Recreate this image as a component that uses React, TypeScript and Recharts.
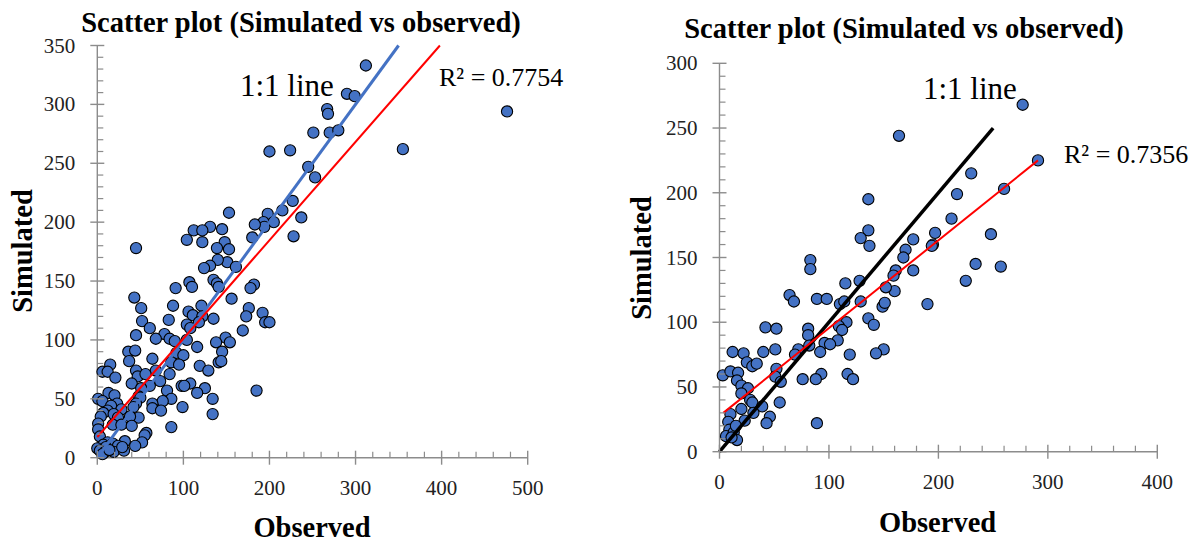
import React from 'react';
import { ScatterChart, Scatter, XAxis, YAxis } from 'recharts';

// Left panel: observed vs simulated
const leftObserved = [
  312, 290, 299, 267, 268, 476, 251, 270, 280, 200, 224, 355, 245, 253, 227, 215, 153, 198, 205, 193,
  194, 183, 237, 228, 180, 131, 112, 122, 145, 104, 122, 148, 153, 139, 45, 151, 140, 131, 124, 161,
  135, 139, 141, 107, 110, 91, 182, 178, 43, 156, 88, 51, 176, 121, 106, 111, 122, 192, 173, 83,
  135, 52, 118, 104, 195, 200, 108, 61, 169, 78, 45, 68, 84, 90, 104, 149, 138, 154, 116, 36,
  44, 92, 145, 100, 86, 141, 37, 64, 144, 95, 119, 15, 6, 12, 21, 45, 47, 68, 129, 84,
  56, 73, 40, 61, 98, 108, 101, 51, 125, 185, 81, 116, 13, 20, 48, 50, 1, 134, 86, 6,
  76, 23, 45, 64, 16, 99, 42, 64, 28, 74, 12, 7, 134, 19, 4, 48, 38, 24, 1, 18,
  28, 40, 86, 1, 3, 57, 55, 32, 52, 12, 18, 7, 0, 10, 24, 44, 3, 9, 19, 31,
  6, 14, 29,
];
const leftSimulated = [
  333, 309, 307, 296, 292, 294, 276, 276, 278, 260, 261, 262, 247, 238, 218, 210, 208, 207, 200, 200,
  196, 198, 204, 188, 187, 196, 193, 193, 194, 185, 183, 183, 177, 178, 178, 166, 168, 163, 161, 162,
  151, 148, 145, 149, 145, 144, 147, 144, 136, 135, 129, 127, 127, 129, 124, 121, 120, 123, 120, 117,
  118, 116, 115, 113, 115, 115, 110, 110, 108, 105, 104, 101, 101, 99, 100, 102, 98, 98, 94, 90,
  91, 89, 90, 87, 81, 81, 82, 84, 82, 79, 78, 79, 73, 73, 68, 74, 69, 74, 74, 71,
  71, 65, 63, 61, 61, 63, 61, 59, 59, 57, 57, 55, 55, 53, 52, 51, 50, 50, 50, 48,
  48, 46, 46, 46, 44, 43, 43, 42, 41, 40, 40, 38, 37, 37, 35, 34, 35, 34, 29, 28,
  28, 27, 26, 24, 18, 21, 19, 14, 13, 13, 12, 11, 8, 9, 10, 10, 6, 5, 5, 6,
  3, 6.5, 9,
];

// Right panel: observed vs simulated
const rightObserved = [
  277, 164, 291, 230, 260, 217, 136, 212, 136, 197, 248, 129, 177, 137, 195, 194, 170, 168, 83, 83,
  161, 177, 159, 234, 257, 225, 128, 115, 160, 152, 64, 68, 89, 98, 129, 110, 114, 190, 149, 151,
  136, 141, 116, 109, 112, 42, 52, 81, 81, 108, 96, 101, 82, 51, 72, 150, 40, 12, 22, 92,
  69, 119, 143, 25, 30, 34, 52, 3, 10, 17, 93, 117, 51, 122, 76, 88, 56, 16, 20, 26,
  20, 28, 30, 55, 39, 20, 31, 46, 10, 23, 89, 43, 8, 9, 6, 13, 16, 15, 11,
];
const rightSimulated = [
  268, 244, 225, 215, 203, 199, 195, 180, 171, 169, 168, 165, 164, 159, 160, 159, 156, 150, 148, 141,
  140, 140, 136, 145, 143, 132, 132, 130, 124, 127, 121, 116, 118, 118, 116, 114, 116, 114, 112, 115,
  103, 98, 100, 97, 94, 96, 95, 95, 90, 86, 84, 83, 82, 79, 79, 79, 77, 77, 76, 77,
  75, 75, 76, 69, 66, 68, 64, 59, 62, 61, 60, 60, 58, 56, 56, 56, 54, 55, 51, 49,
  45, 40, 38, 38, 35, 33, 30, 27, 29, 24, 22, 22, 23, 17, 12, 15, 9, 20, 11,
];

// trend lines (end points)
const leftOneToOne = [{ x: 0, y: 0 }, { x: 350, y: 350 }];
const leftFit = [{ x: 0, y: 17.6 }, { x: 398, y: 350 }];
const rightOneToOne = [{ x: 0, y: 0 }, { x: 250, y: 250 }];
const rightFit = [{ x: 3.5, y: 30 }, { x: 291, y: 225 }];

const leftXTicks = Array.from({ length: 26 }, (_, i) => i * 20);
const leftYTicks = Array.from({ length: 36 }, (_, i) => i * 10);
const rightXTicks = Array.from({ length: 21 }, (_, i) => i * 20);
const rightYTicks = Array.from({ length: 31 }, (_, i) => i * 10);

const leftData = leftObserved.map((x, i) => ({ x, y: leftSimulated[i] }));
const rightData = rightObserved.map((x, i) => ({ x, y: rightSimulated[i] }));

const AXIS = '#8c8c8c';
const SERIF = '"Liberation Serif", "DejaVu Serif", serif';

const Dot = (props: any) => (
  <circle cx={props.cx} cy={props.cy} r={5.6} fill="#4472C4" stroke="#000" strokeWidth={1.1} />
);
const NoDot = () => <g />;

// excel style ticks: majors cross the axis, minors sit inside
const makeYTick = (step: number) => (props: any) => {
  const { x, y, payload } = props;
  const major = payload.value % step === 0;
  return (
    <g>
      {major ? (
        <line x1={x - 7} x2={x + 7} y1={y} y2={y} stroke={AXIS} strokeWidth={1.4} />
      ) : (
        <line x1={x} x2={x + 6} y1={y} y2={y} stroke={AXIS} strokeWidth={1.2} />
      )}
      {major && (
        <text x={x - 22} y={y + 7} textAnchor="end" fontSize={21} fontFamily={SERIF} fill="#222">
          {payload.value}
        </text>
      )}
    </g>
  );
};

const makeXTick = (step: number) => (props: any) => {
  const { x, y, payload } = props;
  const major = payload.value % step === 0;
  return (
    <g>
      {major ? (
        <line x1={x} x2={x} y1={y - 7} y2={y + 7} stroke={AXIS} strokeWidth={1.4} />
      ) : (
        <line x1={x} x2={x} y1={y - 6} y2={y} stroke={AXIS} strokeWidth={1.2} />
      )}
      {major && (
        <text x={x} y={y + 37} textAnchor="middle" fontSize={21} fontFamily={SERIF} fill="#222">
          {payload.value}
        </text>
      )}
    </g>
  );
};

const App = () => {
  return (
    <div style={{ position: 'absolute', left: 0, top: 0, width: 1196, height: 544, background: '#fff' }}>
      <div style={{ position: 'absolute', left: 0, top: 0 }}>
        <ScatterChart width={600} height={544} margin={{ top: 45.5, right: 72.3, bottom: 46.3, left: 37.3 }}>
          <XAxis
            type="number"
            dataKey="x"
            domain={[0, 500]}
            ticks={leftXTicks}
            interval={0}
            height={40}
            tickSize={0}
            tickMargin={0}
            tick={makeXTick(100)}
            axisLine={{ stroke: AXIS, strokeWidth: 1.4 }}
          />
          <YAxis
            type="number"
            dataKey="y"
            domain={[0, 350]}
            ticks={leftYTicks}
            interval={0}
            width={60}
            tickSize={0}
            tickMargin={0}
            tick={makeYTick(50)}
            axisLine={{ stroke: AXIS, strokeWidth: 1.4 }}
          />
          <Scatter data={leftData} shape={Dot} isAnimationActive={false} />
          <Scatter data={leftOneToOne} shape={NoDot} line={{ stroke: '#4472C4', strokeWidth: 3 }} isAnimationActive={false} />
          <Scatter data={leftFit} shape={NoDot} line={{ stroke: '#ff0000', strokeWidth: 2 }} isAnimationActive={false} />
        </ScatterChart>
      </div>
      <div style={{ position: 'absolute', left: 600, top: 0 }}>
        <ScatterChart width={596} height={544} margin={{ top: 63.3, right: 38.7, bottom: 52.3, left: 59.5 }}>
          <XAxis
            type="number"
            dataKey="x"
            domain={[0, 400]}
            ticks={rightXTicks}
            interval={0}
            height={40}
            tickSize={0}
            tickMargin={0}
            tick={makeXTick(100)}
            axisLine={{ stroke: AXIS, strokeWidth: 1.4 }}
          />
          <YAxis
            type="number"
            dataKey="y"
            domain={[0, 300]}
            ticks={rightYTicks}
            interval={0}
            width={60}
            tickSize={0}
            tickMargin={0}
            tick={makeYTick(50)}
            axisLine={{ stroke: AXIS, strokeWidth: 1.4 }}
          />
          <Scatter data={rightData} shape={Dot} isAnimationActive={false} />
          <Scatter data={rightOneToOne} shape={NoDot} line={{ stroke: '#000', strokeWidth: 3.5 }} isAnimationActive={false} />
          <Scatter data={rightFit} shape={NoDot} line={{ stroke: '#ff0000', strokeWidth: 2 }} isAnimationActive={false} />
        </ScatterChart>
      </div>
      <svg
        width={1196}
        height={544}
        style={{ position: 'absolute', left: 0, top: 0, pointerEvents: 'none' }}
        fontFamily={SERIF}
      >
        <text x={301} y={31.5} textAnchor="middle" fontSize={28.5} fontWeight="bold" fill="#000">
          Scatter plot (Simulated vs observed)
        </text>
        <text x={904} y={38} textAnchor="middle" fontSize={28.5} fontWeight="bold" fill="#000">
          Scatter plot (Simulated vs observed)
        </text>
        <text transform="translate(32,251) rotate(-90)" textAnchor="middle" fontSize={28.5} fontWeight="bold" fill="#000">
          Simulated
        </text>
        <text transform="translate(651,258) rotate(-90)" textAnchor="middle" fontSize={28.5} fontWeight="bold" fill="#000">
          Simulated
        </text>
        <text x={312} y={537} textAnchor="middle" fontSize={28.5} fontWeight="bold" fill="#000">
          Observed
        </text>
        <text x={937.6} y={532} textAnchor="middle" fontSize={28.5} fontWeight="bold" fill="#000">
          Observed
        </text>
        <text x={240} y={95.5} fontSize={31} fill="#000">1:1 line</text>
        <text x={439} y={86} fontSize={26} fill="#000">R² = 0.7754</text>
        <text x={923} y={99} fontSize={31} fill="#000">1:1 line</text>
        <text x={1064} y={163} fontSize={26} fill="#000">R² = 0.7356</text>
      </svg>
    </div>
  );
};

export default App;
